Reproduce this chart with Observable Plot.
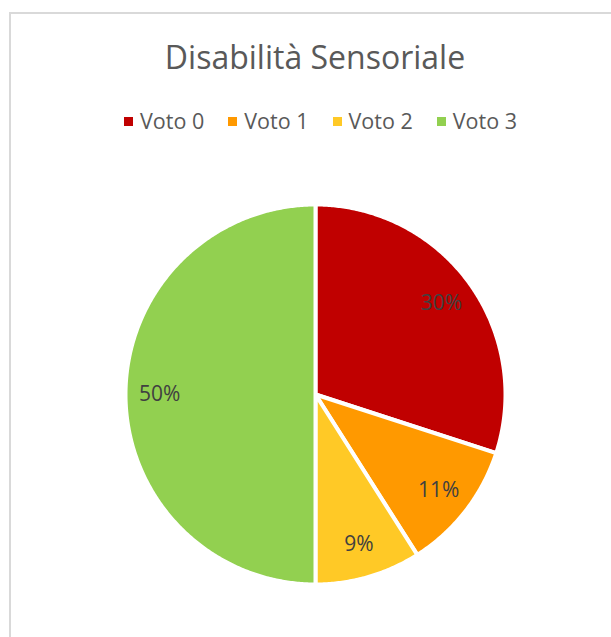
<!DOCTYPE html>
<html>
<head>
<meta charset="utf-8">
<script src="https://cdn.jsdelivr.net/npm/d3@7"></script>
<script src="https://cdn.jsdelivr.net/npm/@observablehq/plot@0.6"></script>
<style>
  html, body { margin: 0; padding: 0; background: #fff; overflow: hidden; }
  #frame { position: relative; width: 611px; height: 637px; font-family: "Open Sans", sans-serif; }
  #border { position: absolute; left: 9px; top: 12px; right: -5px; bottom: -5px; border-top: 2px solid #d9d9d9; border-left: 2px solid #d9d9d9; }
  #title { position: absolute; left: 0; width: 630px; top: 41px; text-align: center; font-size: 32px; line-height: 32px; color: #595959; white-space: nowrap; }
  #legend { position: absolute; left: 0; width: 641px; top: 110px; display: flex; justify-content: center; font-size: 21.5px; line-height: 22px; color: #595959; white-space: nowrap; }
  .item { display: flex; align-items: center; margin: 0 12px; }
  .sw { width: 9px; height: 9px; margin-right: 7px; }
  #chart { position: absolute; left: 115px; top: 194px; }
</style>
</head>
<body>
<div id="frame">
  <div id="border"></div>
  <div id="title"></div>
  <div id="legend"></div>
  <div id="chart"></div>
</div>
<script>
const title = "Disabilità Sensoriale";
const categories = ["Voto 0", "Voto 1", "Voto 2", "Voto 3"];
const values = [30, 11, 9, 50];
const labels = ["30%", "11%", "9%", "50%"];
const colors = ["#C00000", "#FF9900", "#FFC926", "#92D050"];

document.getElementById("title").textContent = title;
const legend = document.getElementById("legend");
categories.forEach((c, i) => {
  const it = document.createElement("div");
  it.className = "item";
  const sw = document.createElement("div");
  sw.className = "sw";
  sw.style.background = colors[i];
  const tx = document.createElement("span");
  tx.textContent = c;
  it.appendChild(sw); it.appendChild(tx);
  legend.appendChild(it);
});

const table = categories.map((c, i) => ({cat: c, value: values[i], label: labels[i]}));
const arcs = d3.pie().sort(null).value(d => d.value)(table);

// slice outlines in unit-circle coordinates (angle 0 at top, clockwise)
const outline = [];
for (const a of arcs) {
  const n = Math.max(2, Math.ceil((a.endAngle - a.startAngle) / (Math.PI / 360)));
  outline.push({cat: a.data.cat, x: 0, y: 0});
  for (let k = 0; k <= n; k++) {
    const t = a.startAngle + (a.endAngle - a.startAngle) * k / n;
    outline.push({cat: a.data.cat, x: Math.sin(t), y: Math.cos(t)});
  }
  outline.push({cat: a.data.cat, x: 0, y: 0});
}
const labelPos = arcs.map(a => {
  const m = (a.startAngle + a.endAngle) / 2;
  return {label: a.data.label, x: 0.82 * Math.sin(m), y: 0.82 * Math.cos(m)};
});

const plot = Plot.plot({
  width: 400, height: 400,
  marginTop: 10, marginBottom: 10, marginLeft: 10, marginRight: 10,
  x: {domain: [-1, 1], axis: null},
  y: {domain: [-1, 1], axis: null},
  color: {domain: categories, range: colors},
  style: {background: "transparent", overflow: "visible"},
  marks: [
    Plot.line(outline, {x: "x", y: "y", z: "cat", fill: "cat", stroke: "#fff", strokeWidth: 4, strokeLinejoin: "round", curve: "linear"}),
    Plot.text(labelPos, {x: "x", y: "y", text: "label", fill: "#404040", fontSize: 21, fontFamily: "Open Sans", textAnchor: "middle"})
  ]
});
document.getElementById("chart").appendChild(plot);
</script>
</body>
</html>
